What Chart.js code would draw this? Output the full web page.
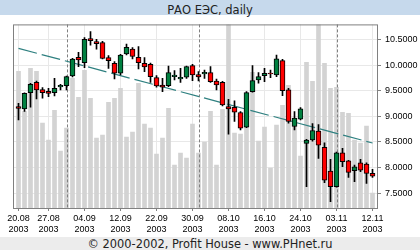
<!DOCTYPE html>
<html>
<head>
<meta charset="utf-8">
<script src="https://cdn.jsdelivr.net/npm/chart.js@4.4.1/dist/chart.umd.min.js"></script>
<style>
  body { margin: 0; background: #fff; }
  .wrap { width: 420px; height: 250px; overflow: hidden; }
  .title { height: 15px; line-height: 20px; background: #c6d9ec; color: #222; font-family: "DejaVu Sans", sans-serif; font-size: 11.5px; text-align: center; }
  .foot { height: 13px; line-height: 14px; background: #ececec; color: #222; font-family: "DejaVu Sans", sans-serif; font-size: 11.4px; text-align: center; }
  canvas { display: block; }
</style>
</head>
<body>
<div class="wrap">
  <div class="title">РАО ЕЭС, daily</div>
  <canvas id="chart" width="420" height="222"></canvas>
  <div class="foot">© 2000-2002, Profit House - www.PHnet.ru</div>
</div>
<script>
const year = `2003`;
const dates = [
  `20.08`, `21.08`, `22.08`, `25.08`, `26.08`, `27.08`, `28.08`, `29.08`,
  `01.09`, `02.09`, `03.09`, `04.09`, `05.09`, `08.09`, `09.09`, `10.09`, `11.09`, `12.09`,
  `15.09`, `16.09`, `17.09`, `18.09`, `19.09`, `22.09`, `23.09`, `24.09`, `25.09`, `26.09`, `29.09`, `30.09`,
  `01.10`, `02.10`, `03.10`, `06.10`, `07.10`, `08.10`, `09.10`, `10.10`, `13.10`, `14.10`, `15.10`, `16.10`,
  `17.10`, `20.10`, `21.10`, `22.10`, `23.10`, `24.10`, `27.10`, `28.10`, `29.10`, `30.10`, `31.10`,
  `03.11`, `04.11`, `05.11`, `06.11`, `10.11`, `11.11`, `12.11`
];
const opens = [
  9.19, 9.144, 9.463, 9.663, 9.521, 9.488, 9.463, 9.572, 9.599, 9.786,
  10.15, 10.047, 10.514, 10.455, 10.436, 10.144, 10.033, 9.839, 10.214, 10.311,
  10.15, 10.033, 10.014, 9.755, 9.611, 9.599, 9.774, 9.728, 9.761, 9.988,
  9.813, 9.825, 9.852, 9.689, 9.663, 9.191, 9.177, 9.074, 8.788, 9.482,
  9.708, 9.794, 9.845, 9.805, 10.086, 9.514, 8.801, 8.944, 8.471, 8.541,
  8.71, 8.393, 7.932, 7.626, 8.288, 8.132, 7.938, 8.093, 8.068, 7.887
];
const highs = [
  9.255, 9.46, 9.644, 9.689, 9.56, 9.547, 9.741, 9.625, 9.786, 10.13,
  10.247, 10.533, 10.65, 10.5, 10.46, 10.183, 10.066, 10.208, 10.409, 10.338,
  10.358, 10.144, 10.039, 9.794, 9.741, 9.981, 9.891, 9.936, 9.981, 10.014,
  9.871, 9.903, 9.969, 9.728, 9.68, 9.333, 9.3, 9.093, 9.482, 9.988,
  9.852, 9.936, 9.903, 10.195, 10.111, 9.547, 9.093, 9.171, 8.55, 8.86,
  8.84, 8.482, 8.159, 8.3, 8.374, 8.14, 8.049, 8.159, 8.093, 7.965
];
const lows = [
  8.93, 9.094, 9.177, 9.339, 9.352, 9.385, 9.397, 9.514, 9.514, 9.77,
  9.969, 9.949, 10.389, 10.311, 10.117, 9.936, 9.728, 9.805, 10.195, 10.117,
  9.922, 9.871, 9.663, 9.566, 9.482, 9.579, 9.708, 9.663, 9.741, 9.697,
  9.689, 9.741, 9.663, 9.514, 9.202, 8.652, 8.899, 8.735, 8.78, 9.469,
  9.644, 9.677, 9.755, 9.774, 9.404, 8.866, 8.735, 8.93, 7.627, 8.516,
  8.179, 7.704, 7.335, 7.62, 8.016, 7.809, 7.724, 7.918, 7.692, 7.809
];
const closes = [
  9.152, 9.449, 9.625, 9.514, 9.463, 9.444, 9.547, 9.605, 9.774, 10.117,
  10.097, 10.5, 10.475, 10.416, 10.13, 10.086, 9.839, 10.195, 10.344, 10.169,
  10.047, 9.961, 9.774, 9.591, 9.566, 9.852, 9.805, 9.761, 9.969, 9.805,
  9.766, 9.858, 9.677, 9.611, 9.222, 9.144, 9.08, 8.768, 9.463, 9.697,
  9.774, 9.839, 9.825, 10.12, 9.502, 8.899, 8.963, 9.144, 8.535, 8.724,
  8.438, 7.757, 7.626, 8.288, 8.113, 7.907, 8.016, 7.951, 7.887, 7.835
];
const volumes = [
  137, 97, 140, 137, 85, 68, 98, 57, 80, 130,
  111, 138, 110, 70, 73, 106, 110, 120, 71, 76,
  125, 84, 80, 54, 70, 100, 43, 55, 50, 84,
  55, 66, 97, 43, 99, 200, 75, 74, 109, 136,
  67, 81, 40, 83, 103, 123, 87, 52, 146, 127,
  200, 145, 120, 121, 96, 95, 68, 65, 82, 15
];
const priceTicks = [7.5, 8, 8.5, 9, 9.5, 10, 10.5];
const dateTicks = [`20.08`, `27.08`, `04.09`, `12.09`, `22.09`, `30.09`, `08.10`, `16.10`, `24.10`, `03.11`, `12.11`];
const monthStarts = [`01.09`, `01.10`, `03.11`];
const trendFrom = 10.325;
const trendTo = 8.48;

const UP = `#008040`;
const DOWN = `#ff0000`;
const idx = dates.map((d, i) => i);

Chart.defaults.font.family = `"Liberation Sans", Arial, sans-serif`;
Chart.defaults.font.size = 9;
Chart.defaults.color = `#000`;

// dashed separators at the first trading day of each month, over the volume bars
const monthLines = {
  id: `monthLines`,
  afterDatasetDraw(chart, args) {
    if (args.index !== 0) {
      return;
    }
    const {ctx, chartArea, scales} = chart;
    ctx.save();
    ctx.strokeStyle = `#808080`;
    ctx.lineWidth = 1;
    ctx.setLineDash([3, 2]);
    monthStarts.forEach((d) => {
      const px = Math.round(scales.x.getPixelForValue(dates.indexOf(d))) + 0.5;
      ctx.beginPath();
      ctx.moveTo(px, chartArea.top);
      ctx.lineTo(px, chartArea.bottom);
      ctx.stroke();
    });
    ctx.restore();
  }
};

const frame = {
  id: `frame`,
  afterDatasetsDraw(chart) {
    const {ctx, chartArea} = chart;
    ctx.save();
    ctx.strokeStyle = `#808080`;
    ctx.lineWidth = 1;
    ctx.strokeRect(chartArea.left + 0.5, chartArea.top + 0.5, chartArea.width - 1, chartArea.height);
    ctx.restore();
  }
};

new Chart(document.getElementById(`chart`), {
  type: `bar`,
  plugins: [monthLines, frame],
  data: {
    datasets: [{
      label: `Volume`,
      data: idx.map((i) => ({x: i, y: volumes[i]})),
      yAxisID: `vol`,
      backgroundColor: `#d3d3d3`,
      barThickness: 4,
      grouped: false,
      order: 4
    }, {
      type: `line`,
      label: `Trend`,
      data: [{x: 0, y: trendFrom}, {x: dates.length - 1, y: trendTo}],
      yAxisID: `y`,
      borderColor: `#2f8080`,
      borderWidth: 1.2,
      borderDash: [19, 5],
      pointRadius: 0,
      order: 3
    }, {
      label: `Range`,
      data: idx.map((i) => ({x: i, y: [lows[i], highs[i]]})),
      yAxisID: `y`,
      backgroundColor: `#000`,
      barThickness: 1,
      grouped: false,
      order: 2
    }, {
      label: `Body`,
      data: idx.map((i) => ({x: i, y: [opens[i], closes[i]]})),
      yAxisID: `y`,
      backgroundColor: idx.map((i) => closes[i] >= opens[i] ? UP : DOWN),
      borderColor: `#000`,
      borderWidth: 1,
      borderSkipped: false,
      barThickness: 5,
      grouped: false,
      order: 1
    }]
  },
  options: {
    responsive: false,
    animation: false,
    events: [],
    devicePixelRatio: 1,
    layout: {
      padding: {left: 13, top: 9, right: 0, bottom: 0}
    },
    plugins: {
      legend: {display: false},
      tooltip: {enabled: false}
    },
    scales: {
      x: {
        type: `linear`,
        offset: false,
        min: -11 / 12,
        max: 59 + 11 / 12,
        afterBuildTicks: (scale) => {
          scale.ticks = dateTicks.map((d) => ({value: dates.indexOf(d)}));
        },
        afterFit: (scale) => {
          scale.height = 29;
        },
        grid: {offset: false, color: `#e8e8e8`, tickColor: `#808080`, tickLength: 3},
        border: {display: false},
        ticks: {
          autoSkip: false,
          maxRotation: 0,
          padding: 2,
          callback: (value) => [dates[value], year]
        }
      },
      y: {
        position: `right`,
        min: 7.212,
        max: 10.792,
        afterBuildTicks: (scale) => {
          scale.ticks = priceTicks.map((v) => ({value: v}));
        },
        afterFit: (scale) => {
          scale.width = 42;
        },
        grid: {color: `#e8e8e8`, tickColor: `#808080`, tickLength: 3},
        border: {display: false},
        ticks: {
          padding: 4,
          callback: (value) => value.toFixed(4)
        }
      },
      vol: {
        display: false,
        min: 0,
        max: 184
      }
    }
  }
});
</script>
</body>
</html>
